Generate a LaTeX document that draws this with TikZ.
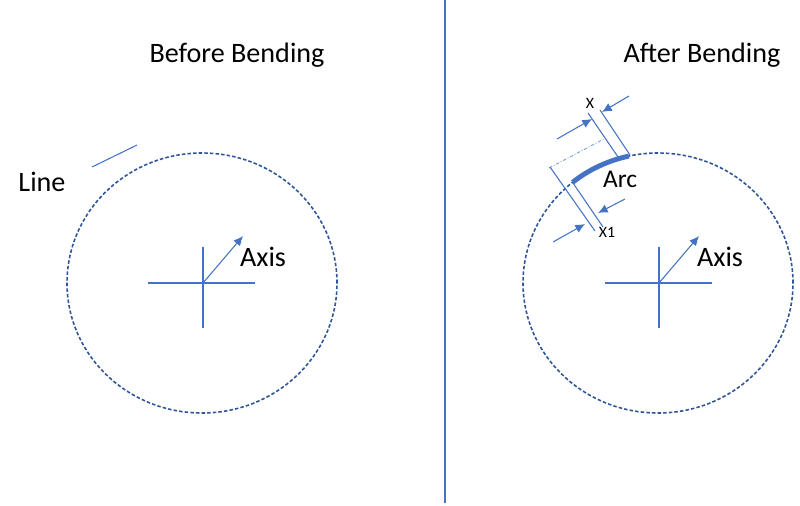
\documentclass[tikz,border=0pt]{standalone}
\usepackage{fontspec}
\setmainfont[Numbers=Lining]{Carlito}
\usepackage{tikz}
\usetikzlibrary{arrows.meta}

\definecolor{lineblue}{HTML}{4472C4}
\definecolor{circblue}{HTML}{2F5597}

\begin{document}
\begin{tikzpicture}[x=0.02cm, y=0.02cm,
    thinline/.style={draw=lineblue, line width=0.6pt},
    dimarrow/.style={draw=lineblue, line width=0.6pt, -{Latex[length=5.5pt, width=5pt]}},
    circ/.style={draw=circblue, line width=0.9pt, dash pattern=on 2pt off 1.2pt},
    bigtext/.style={font=\fontsize{16}{19}\selectfont, text=black},
    smalltext/.style={font=\fontsize{9}{11}\selectfont, text=black}]

                  \useasboundingbox (0,0) rectangle (800,505);

                  % Define coordinates
                  \coordinate (OL) at (202,222);
                  \coordinate (OR) at (658,222);
                  \coordinate (DivTop) at (445,505);
                  \coordinate (DivBot) at (445,2);

                  % Divider
                  \draw[thinline] (DivTop) -- (DivBot);

                  % Titles
                  \node[bigtext] (before) at (237,450) {Before Bending};
                  \node[bigtext] (after) at (702,450) {After Bending};

                  % Left: circle, axis and line
                  \draw[circ] (OL) ellipse [x radius=135, y radius=130];
                  \coordinate (LH1) at (148,222);
                  \coordinate (LH2) at (255,222);
                  \coordinate (LV1) at (203,258);
                  \coordinate (LV2) at (203,177);
                  \coordinate (LA1) at (203,222);
                  \coordinate (LA2) at (243,269);
                  \draw[thinline] (LH1) -- (LH2);
                  \draw[thinline] (LV1) -- (LV2);
                  \draw[dimarrow] (LA1) -- (LA2);
                  \node[bigtext] (axisL) at (263,248) {Axis};

                  \coordinate (L1) at (92,338);
                  \coordinate (L2) at (137,360);
                  \draw[thinline] (L1) -- (L2);
                  \node[bigtext] (line) at (42,323) {Line};

                  % Right: circle, axis and arc
                  \draw[circ] (OR) ellipse [x radius=135, y radius=130];
                  \coordinate (RH1) at (605,222);
                  \coordinate (RH2) at (712,222);
                  \coordinate (RV1) at (659,258);
                  \coordinate (RV2) at (659,177);
                  \coordinate (RA1) at (659,222);
                  \coordinate (RA2) at (699,269);
                  \draw[thinline] (RH1) -- (RH2);
                  \draw[thinline] (RV1) -- (RV2);
                  \draw[dimarrow] (RA1) -- (RA2);
                  \node[bigtext] (axisR) at (720,248) {Axis};

                  % Bent arc
                  \draw[lineblue, line width=2.8pt] (OR) ++(102.5:135 and 130)
                        arc[start angle=102.5, end angle=129.3, x radius=135, y radius=130];
                  \node[font=\fontsize{14.5}{17}\selectfont] (arc) at (620,326) {Arc};

                  % Original line, dash dotted
                  \coordinate (D1) at (549,337);
                  \coordinate (D2) at (604,366);
                  \draw[lineblue!70, line width=0.5pt, dash pattern=on 2pt off 1pt on 0.5pt off 1pt] (D1) -- (D2);

                  % Extension lines
                  \coordinate (E1a) at (588,392);
                  \coordinate (E1b) at (618,348);
                  \coordinate (E2a) at (600,395);
                  \coordinate (E2b) at (630,350);
                  \coordinate (E3a) at (550,338);
                  \coordinate (E3b) at (595,274);
                  \coordinate (E4a) at (573,322);
                  \coordinate (E4b) at (603,278);
                  \draw[thinline] (E1a) -- (E1b);
                  \draw[thinline] (E2a) -- (E2b);
                  \draw[thinline] (E3a) -- (E3b);
                  \draw[thinline] (E4a) -- (E4b);

                  % Dimension arrows
                  \coordinate (P1) at (557,366);
                  \coordinate (Q1) at (592,386);
                  \coordinate (P2) at (629,409);
                  \coordinate (Q2) at (602,393);
                  \coordinate (P3) at (553,263);
                  \coordinate (Q3) at (585,281);
                  \coordinate (P4) at (625,306);
                  \coordinate (Q4) at (598,292);
                  \draw[dimarrow] (P1) -- (Q1);
                  \draw[dimarrow] (P2) -- (Q2);
                  \draw[dimarrow] (P3) -- (Q3);
                  \draw[dimarrow] (P4) -- (Q4);
                  \node[smalltext] (x) at (590,402) {X};
                  \node[smalltext] (x1) at (607,273) {X1};

              \end{tikzpicture}
\end{document}
